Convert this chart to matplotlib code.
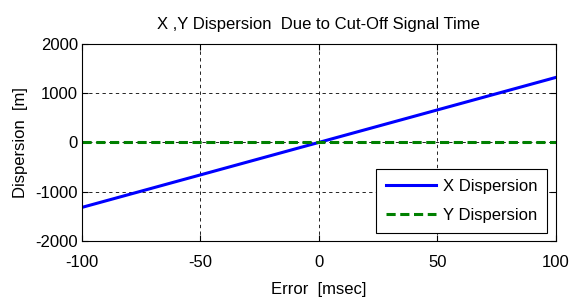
import matplotlib.pyplot as plt

plt.rcParams['font.family'] = ['Liberation Sans', 'DejaVu Sans']
plt.rcParams['axes.unicode_minus'] = False

# data
error_ms = [-100, 100]
x_disp = [-1320, 1320]
y_disp = [0, 0]
x_ticks = [-100, -50, 0, 50, 100]
y_ticks = [-2000, -1000, 0, 1000, 2000]

fig = plt.figure(figsize=(5.73, 2.97), dpi=100)
ax = fig.add_axes([0.143, 0.189, 0.827, 0.663])

ax.plot(error_ms, x_disp, color='#0000ff', lw=2.2, label='X Dispersion')
ax.plot(error_ms, y_disp, color='#008000', lw=2.2, ls=(0, (3, 1.5)), label='Y Dispersion')

ax.set_xlim(-100, 100)
ax.set_ylim(-2000, 2000)
ax.set_xticks(x_ticks)
ax.set_yticks(y_ticks)
ax.grid(True, color='black', ls=(0, (4, 4)), lw=0.6)
ax.tick_params(direction='in', top=True, right=True, labelsize=12, length=4, pad=3)
ax.tick_params(axis='x', pad=10)
for s in ax.spines.values():
    s.set_linewidth(0.8)

ax.set_title('X ,Y Dispersion  Due to Cut-Off Signal Time', fontsize=12, pad=11)
ax.set_xlabel('Error  [msec]', fontsize=12, labelpad=9)
ax.set_ylabel('Dispersion  [m]', fontsize=12, labelpad=5)

leg = ax.legend(loc='lower right', fontsize=12, fancybox=False, framealpha=1,
                edgecolor='black', borderaxespad=0.5, handlelength=3.0,
                handletextpad=0.4, labelspacing=0.8, borderpad=0.6)
leg.get_frame().set_linewidth(0.8)

fig.savefig('out.png', dpi=100)
